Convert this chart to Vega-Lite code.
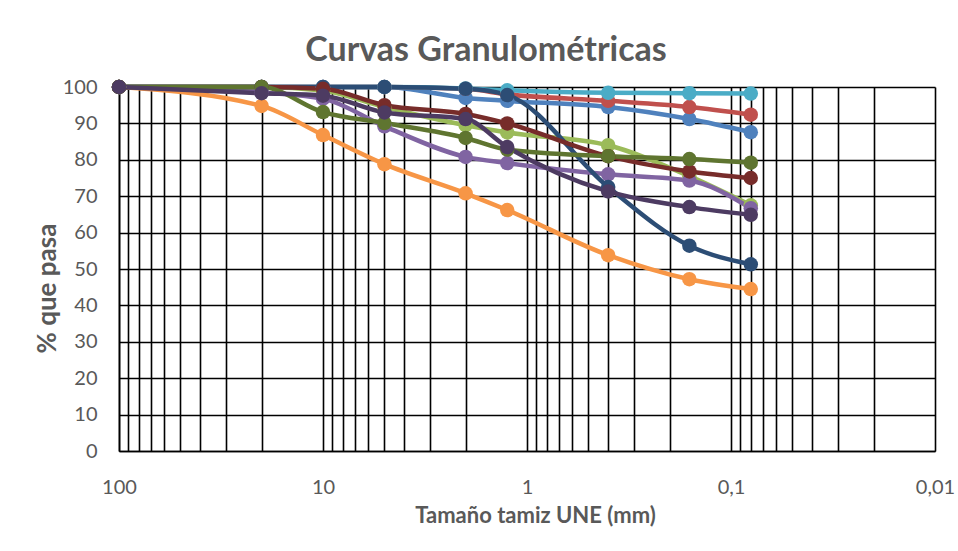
{
  "$schema": "https://vega.github.io/schema/vega-lite/v6.json",
  "width": 816,
  "height": 364,
  "autosize": {"type": "none"},
  "padding": {"left": 119, "top": 87, "right": 23, "bottom": 100},
  "background": "white",
  "title": {"text": "Curvas Granulométricas", "fontSize": 34, "font": "Lato", "fontWeight": "bold", "color": "#595959", "offset": 18, "baseline": "alphabetic", "dx": -41, "dy": 36},
  "config": {"view": {"stroke": null}, "font": "Lato"},
  "data": {"values": [
    {"s":"1","x":100,"y":100},{"s":"1","x":20,"y":100},{"s":"1","x":10,"y":100},{"s":"1","x":5,"y":100},{"s":"1","x":2,"y":97},{"s":"1","x":1.25,"y":96.2},{"s":"1","x":0.4,"y":94.5},{"s":"1","x":0.16,"y":91.2},{"s":"1","x":0.08,"y":87.6},
    {"s":"2","x":100,"y":100},{"s":"2","x":20,"y":100},{"s":"2","x":10,"y":100},{"s":"2","x":5,"y":100},{"s":"2","x":2,"y":99.5},{"s":"2","x":1.25,"y":98},{"s":"2","x":0.4,"y":96.2},{"s":"2","x":0.16,"y":94.5},{"s":"2","x":0.08,"y":92.4},
    {"s":"3","x":100,"y":100},{"s":"3","x":20,"y":100},{"s":"3","x":10,"y":99},{"s":"3","x":5,"y":94.5},{"s":"3","x":2,"y":89.5},{"s":"3","x":1.25,"y":87.5},{"s":"3","x":0.4,"y":84},{"s":"3","x":0.16,"y":75.5},{"s":"3","x":0.08,"y":67.5},
    {"s":"4","x":100,"y":100},{"s":"4","x":20,"y":98.5},{"s":"4","x":10,"y":96.8},{"s":"4","x":5,"y":89.2},{"s":"4","x":2,"y":80.8},{"s":"4","x":1.25,"y":79.1},{"s":"4","x":0.4,"y":76},{"s":"4","x":0.16,"y":74.3},{"s":"4","x":0.08,"y":66.7},
    {"s":"5","x":100,"y":100},{"s":"5","x":20,"y":100},{"s":"5","x":10,"y":100},{"s":"5","x":5,"y":100},{"s":"5","x":2,"y":99.6},{"s":"5","x":1.25,"y":99.1},{"s":"5","x":0.4,"y":98.4},{"s":"5","x":0.16,"y":98.3},{"s":"5","x":0.08,"y":98.2},
    {"s":"6","x":100,"y":100},{"s":"6","x":20,"y":94.8},{"s":"6","x":10,"y":86.8},{"s":"6","x":5,"y":78.8},{"s":"6","x":2,"y":70.8},{"s":"6","x":1.25,"y":66.2},{"s":"6","x":0.4,"y":53.8},{"s":"6","x":0.16,"y":47.2},{"s":"6","x":0.08,"y":44.5},
    {"s":"7","x":100,"y":100},{"s":"7","x":20,"y":100},{"s":"7","x":10,"y":100},{"s":"7","x":5,"y":100},{"s":"7","x":2,"y":99.5},{"s":"7","x":1.25,"y":97.8},{"s":"7","x":0.4,"y":72.5},{"s":"7","x":0.16,"y":56.4},{"s":"7","x":0.08,"y":51.3},
    {"s":"8","x":100,"y":100},{"s":"8","x":20,"y":100},{"s":"8","x":10,"y":99.5},{"s":"8","x":5,"y":95},{"s":"8","x":2,"y":92.6},{"s":"8","x":1.25,"y":90},{"s":"8","x":0.4,"y":81},{"s":"8","x":0.16,"y":76.8},{"s":"8","x":0.08,"y":75},
    {"s":"9","x":100,"y":100},{"s":"9","x":20,"y":100},{"s":"9","x":10,"y":93.1},{"s":"9","x":5,"y":90.1},{"s":"9","x":2,"y":86},{"s":"9","x":1.25,"y":82.8},{"s":"9","x":0.4,"y":81},{"s":"9","x":0.16,"y":80.2},{"s":"9","x":0.08,"y":79.2},
    {"s":"10","x":100,"y":100},{"s":"10","x":20,"y":98.3},{"s":"10","x":10,"y":97.6},{"s":"10","x":5,"y":93},{"s":"10","x":2,"y":91.2},{"s":"10","x":1.25,"y":83.5},{"s":"10","x":0.4,"y":71.3},{"s":"10","x":0.16,"y":67},{"s":"10","x":0.08,"y":64.9}
  ]},
  "encoding": {
    "x": {"field": "x", "type": "quantitative",
      "scale": {"type": "log", "domain": [0.01, 100], "reverse": true, "nice": false},
      "axis": {
        "values": [100,90,80,70,60,50,40,30,20,10,9,8,7,6,5,4,3,2,1,0.9,0.8,0.7,0.6,0.5,0.4,0.3,0.2,0.1,0.09,0.08,0.07,0.06,0.05,0.04,0.03,0.02,0.01],
        "labelExpr": "(datum.value==100||datum.value==10||datum.value==1||datum.value==0.1||datum.value==0.01) ? replace(format(datum.value,''),'.',',') : ''",
        "grid": true, "gridColor": "#000000", "gridWidth": 1.6, "gridOpacity": 1,
        "ticks": false, "domain": true, "domainColor": "#000000", "domainWidth": 1.6,
        "labelFontSize": 20, "labelColor": "#595959", "labelPadding": 26, "labelFont": "Lato", "labelFlush": false, "labelOverlap": false,
        "title": "Tamaño tamiz UNE (mm)", "titleFontSize": 22, "titleFont": "Lato", "titleFontWeight": "bold", "titleColor": "#595959", "titlePadding": 8, "titleX": 416
      }},
    "y": {"field": "y", "type": "quantitative",
      "scale": {"domain": [0, 100], "nice": false, "zero": true},
      "axis": {
        "values": [0,10,20,30,40,50,60,70,80,90,100],
        "grid": true, "gridColor": "#000000", "gridWidth": 1.6, "gridOpacity": 1,
        "ticks": false, "domain": true, "domainColor": "#000000", "domainWidth": 1.6,
        "labelFontSize": 20, "labelColor": "#595959", "labelPadding": 22, "labelFont": "Lato",
        "title": "% que pasa", "titleFontSize": 26, "titleFont": "Lato", "titleFontWeight": "bold", "titleColor": "#595959", "titlePadding": 2, "titleY": 201
      }},
    "color": {"field": "s", "type": "nominal", "legend": null,
      "scale": {"domain": ["1","2","3","4","5","6","7","8","9","10"],
        "range": ["#4F81BD","#C0504D","#9BBB59","#8064A2","#4BACC6","#F79646","#2C4D75","#772C2A","#5F7530","#4D3B62"]}}
  },
  "layer": [
    {"mark": {"type": "line", "strokeWidth": 4.5, "interpolate": "monotone"}},
    {"mark": {"type": "circle", "size": 210, "opacity": 1}}
  ]
}
